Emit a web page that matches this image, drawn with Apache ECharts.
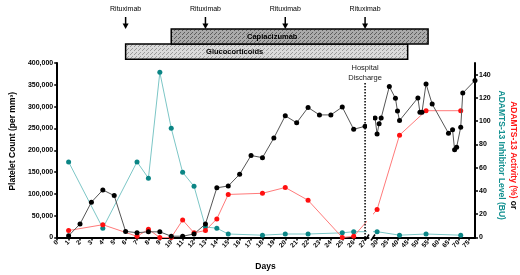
<!DOCTYPE html>
<html>
<head>
<meta charset="utf-8">
<script src="https://cdn.jsdelivr.net/npm/echarts@6/dist/echarts.min.js"></script>
<style>
  html, body { margin: 0; padding: 0; background: #fff; }
  #timelineChart { width: 520px; height: 275px; }
</style>
</head>
<body>
<div id="timelineChart"></div>
<script>
// tick labels of the broken day axis
const leftTicks  = [0, 1, 2, 3, 4, 5, 6, 7, 8, 9, 10, 11, 12, 13, 14, 15, 16, 17, 18, 19, 20, 21, 22, 23, 24, 25, 26, 27];
const rightTicks = [30, 35, 40, 45, 50, 55, 60, 65, 70, 75];
const activityTicks = [0, 20, 40, 60, 80, 100, 120, 140];

// platelet count (left axis)
const plateletDays = [1, 2, 3, 4, 5, 6, 7, 8, 9, 10, 11, 12, 13, 14, 15, 16, 17, 18, 19, 20, 21, 22, 23, 24, 25, 26, 27,
                      29, 30, 31, 32, 36, 39, 40, 41, 50, 51, 52, 54, 57, 65, 67, 68, 69, 71, 72, 78];
const plateletVals = [4000, 31000, 81000, 109000, 96000, 14000, 11000, 13000, 13000, 3000, 3000, 8000, 31000, 114000,
                      118000, 145000, 188000, 183000, 228000, 279000, 263000, 298000, 281000, 281000, 299000, 248000, 255000,
                      274000, 237000, 261000, 274000, 346000, 319000, 290000, 268000, 320000, 287000, 287000, 352000,
                      306000, 239000, 247000, 201000, 207000, 253000, 331000, 360000];

// ADAMTS-13 activity (%) and inhibitor level (BU), right axis
const activityDays  = [1, 4, 7, 8, 9, 10, 11, 12, 13, 14, 15, 18, 20, 22, 25, 26, 30, 41, 54, 71];
const activityVals  = [6, 11, 1, 7, 0, 0, 15, 4, 6, 16, 37, 38, 43, 32, 0, 1, 24, 88, 109, 109];
const inhibitorDays = [1, 4, 7, 8, 9, 10, 11, 12, 13, 14, 15, 18, 20, 22, 25, 26, 30, 41, 54, 71];
const inhibitorVals = [65, 8, 65, 51, 142, 94, 56, 44, 9, 8, 3, 2, 3, 3, 4, 5, 5, 2, 3, 2];

// treatments
const rituximabDays   = [6, 13, 20, 27];
const caplacizumab    = [10, 55];
const glucocorticoids = [6, 45];
const dischargeDay    = 27;

const LEFT_MAX = 27.3, RIGHT_MIN = 28, RIGHT_MAX = 78;
const FONT = '"Liberation Sans", Arial, sans-serif';

document.addEventListener('DOMContentLoaded', () => {

    const chart = echarts.init(document.getElementById('timelineChart'));

    function pts(days, vals, lo, hi) {
        return days.map((d, i) => [d, vals[i]]).filter(p => p[0] >= lo && p[0] <= hi);
    }
    // last point before the break and first after it
    function bridge(days, vals) {
        const a = pts(days, vals, 0, LEFT_MAX);
        const b = pts(days, vals, RIGHT_MIN, RIGHT_MAX);
        return [a[a.length - 1], b[0]];
    }

    function lineSeries(xi, yi, data, dot, line, z) {
        return {
            type: 'line', xAxisIndex: xi, yAxisIndex: yi, data: data,
            symbol: 'circle', symbolSize: 5, z: z, silent: true,
            itemStyle: { color: dot },
            lineStyle: { color: line, width: 1 }
        };
    }

    const axisBlack = { lineStyle: { color: '#000', width: 2 } };
    const tickBlack = { length: 3, lineStyle: { color: '#000', width: 1.5 } };
    const dayLabel = { rotate: 45, fontSize: 6.5, fontWeight: 'bold', color: '#000', margin: 4, fontFamily: FONT };

    const option = {
        animation: false,
        textStyle: { fontFamily: FONT },
        grid: [
            { left: 52, top: 63, right: 151.5, bottom: 37.5 },
            { left: 373, top: 63, right: 41, bottom: 37.5 },
            { left: 350, top: 63, right: 140, bottom: 37.5 }
        ],
        xAxis: [
            { gridIndex: 0, type: 'value', min: 0, max: LEFT_MAX, axisLine: axisBlack,
              axisTick: Object.assign({ customValues: leftTicks }, tickBlack),
              axisLabel: Object.assign({ customValues: leftTicks }, dayLabel), splitLine: { show: false } },
            { gridIndex: 1, type: 'value', min: RIGHT_MIN, max: RIGHT_MAX, axisLine: axisBlack,
              axisTick: Object.assign({ customValues: rightTicks }, tickBlack),
              axisLabel: Object.assign({ customValues: rightTicks }, dayLabel), splitLine: { show: false } },
            { gridIndex: 2, type: 'value', min: 26, max: 30, show: false }
        ],
        yAxis: [
            { gridIndex: 0, type: 'value', min: 0, max: 400000, interval: 50000,
              axisLine: Object.assign({ show: true }, axisBlack), axisTick: Object.assign({ show: true }, tickBlack),
              splitLine: { show: false },
              axisLabel: { fontSize: 7, fontWeight: 'bold', color: '#000', margin: 4,
                           formatter: v => v.toLocaleString('en-US') },
              name: 'Platelet Count (per mm³)', nameLocation: 'middle', nameGap: 38,
              nameTextStyle: { fontSize: 8.5, fontWeight: 'bold', color: '#000', padding: [0, 0, 0, 18] } },
            { gridIndex: 0, type: 'value', min: 0, max: 150, show: false },
            { gridIndex: 1, type: 'value', min: 0, max: 400000, show: false },
            { gridIndex: 1, type: 'value', min: 0, max: 150, position: 'right',
              axisLine: Object.assign({ show: true }, axisBlack),
              axisTick: Object.assign({ show: true, customValues: activityTicks }, tickBlack),
              splitLine: { show: false },
              axisLabel: { customValues: activityTicks, fontSize: 7, fontWeight: 'bold', color: '#000', margin: 4 },
              name: '{r|ADAMTS-13 Activity (%)}{k| or}\n{t|ADAMTS-13 Inhibitor Level (BU)}',
              nameLocation: 'middle', nameRotate: -90, nameGap: 20,
              nameTextStyle: {
                  lineHeight: 12,
                  padding: [0, 0, 0, 10],
                  rich: {
                      r: { color: '#ff1a1a', fontWeight: 'bold', fontSize: 8.5, fontFamily: FONT },
                      k: { color: '#000', fontWeight: 'bold', fontSize: 8.5, fontFamily: FONT },
                      t: { color: '#129090', fontWeight: 'bold', fontSize: 8.5, fontFamily: FONT }
                  }
              } },
            { gridIndex: 2, type: 'value', min: 0, max: 150, show: false }
        ],
        series: [
            lineSeries(0, 1, pts(inhibitorDays, inhibitorVals, 0, LEFT_MAX), '#0b8585', '#7cc6c6', 2),
            lineSeries(1, 3, pts(inhibitorDays, inhibitorVals, RIGHT_MIN, RIGHT_MAX), '#0b8585', '#7cc6c6', 2),
            Object.assign(lineSeries(2, 4, bridge(inhibitorDays, inhibitorVals), '#0b8585', '#7cc6c6', 1), { symbol: 'none' }),
            lineSeries(0, 1, pts(activityDays, activityVals, 0, LEFT_MAX), '#ff1010', '#ff7a7a', 3),
            lineSeries(1, 3, pts(activityDays, activityVals, RIGHT_MIN, RIGHT_MAX), '#ff1010', '#ff7a7a', 3),
            Object.assign(lineSeries(2, 4, bridge(activityDays, activityVals), '#ff1010', '#ff7a7a', 1), { symbol: 'none' }),
            lineSeries(0, 0, pts(plateletDays, plateletVals, 0, LEFT_MAX), '#000', '#555', 4),
            lineSeries(1, 2, pts(plateletDays, plateletVals, RIGHT_MIN, RIGHT_MAX), '#000', '#555', 4)
        ]
    };
    chart.setOption(option);

    // === place the bridge grid and the annotations from the axes ===
    const xOf = d => chart.convertToPixel({ xAxisIndex: d <= LEFT_MAX ? 0 : 1 }, d);
    const yBase = chart.convertToPixel({ yAxisIndex: 0 }, 0);
    const yTop = chart.convertToPixel({ yAxisIndex: 0 }, 400000);
    const breakL = xOf(LEFT_MAX), breakR = chart.convertToPixel({ xAxisIndex: 1 }, RIGHT_MIN);
    const br = bridge(activityDays, activityVals);
    const bx0 = xOf(br[0][0]), bx1 = xOf(br[1][0]);

    function stipple(base, dot) {
        const c = document.createElement('canvas');
        c.width = 4; c.height = 4;
        const g = c.getContext('2d');
        g.fillStyle = base; g.fillRect(0, 0, 4, 4);
        g.fillStyle = dot;
        g.fillRect(0, 0, 1, 1); g.fillRect(2, 2, 1, 1);
        g.fillRect(3, 1, 1, 1);
        return { image: c, repeat: 'repeat' };
    }

    const gr = [];
    rituximabDays.forEach(d => {
        const x = xOf(d);
        gr.push({ type: 'text', x: x, y: 9, style: { text: 'Rituximab', font: '7px ' + FONT, fill: '#000', align: 'center', verticalAlign: 'middle' } });
        gr.push({ type: 'line', shape: { x1: x, y1: 17, x2: x, y2: 24 }, style: { stroke: '#000', lineWidth: 1.5 } });
        gr.push({ type: 'polygon', shape: { points: [[x - 3, 23.5], [x + 3, 23.5], [x, 29]] }, style: { fill: '#000' } });
    });

    const gx0 = xOf(glucocorticoids[0]), gx1 = xOf(glucocorticoids[1]);
    const cx0 = xOf(caplacizumab[0]), cx1 = xOf(caplacizumab[1]);
    gr.push({ type: 'rect', shape: { x: gx0, y: 44, width: gx1 - gx0, height: 15.3 },
              style: { fill: stipple('#dadada', '#9a9a9a'), stroke: '#000', lineWidth: 1.5 } });
    gr.push({ type: 'rect', shape: { x: cx0, y: 29, width: cx1 - cx0, height: 15 },
              style: { fill: stipple('#aaaaaa', '#5e5e5e'), stroke: '#000', lineWidth: 1.5 } });
    gr.push({ type: 'text', x: gx0 + 109, y: 51.8, style: { text: 'Glucocorticoids', font: 'bold 7.5px ' + FONT, fill: '#000', align: 'center', verticalAlign: 'middle' } });
    gr.push({ type: 'text', x: cx0 + 101, y: 36.5, style: { text: 'Caplacizumab', font: 'bold 7.5px ' + FONT, fill: '#000', align: 'center', verticalAlign: 'middle' } });

    // gap in the lines at the axis break, and the // marks
    gr.push({ type: 'rect', z: 5, shape: { x: breakL - 1.5, y: yTop + 25, width: breakR - breakL + 1.5, height: yBase - yTop - 28 }, style: { fill: '#fff' } });
    [breakL - 1, breakR + 0.5].forEach(x => {
        gr.push({ type: 'line', z: 6, shape: { x1: x - 2.5, y1: yBase + 3, x2: x + 1.5, y2: yBase - 3 }, style: { stroke: '#000', lineWidth: 1.5 } });
    });

    // hospital discharge
    const xd = xOf(dischargeDay);
    gr.push({ type: 'line', shape: { x1: xd, y1: 83, x2: xd, y2: yBase }, z: 6,
              style: { stroke: '#000', lineWidth: 1.5, lineDash: [1.5, 1.5] } });
    gr.push({ type: 'text', x: xd, y: 73, z: 7, style: { text: 'Hospital\nDischarge', font: '7.5px ' + FONT, lineHeight: 9.5, fill: '#222', align: 'center', verticalAlign: 'middle' } });

    gr.push({ type: 'text', x: (52 + 479) / 2, y: 267, style: { text: 'Days', font: 'bold 8.5px ' + FONT, fill: '#000', align: 'center', verticalAlign: 'middle' } });

    chart.setOption({
        grid: [{}, {}, { left: bx0, right: chart.getWidth() - bx1 }],
        xAxis: [{}, {}, { min: br[0][0], max: br[1][0] }],
        graphic: gr
    });
});
</script>
</body>
</html>
